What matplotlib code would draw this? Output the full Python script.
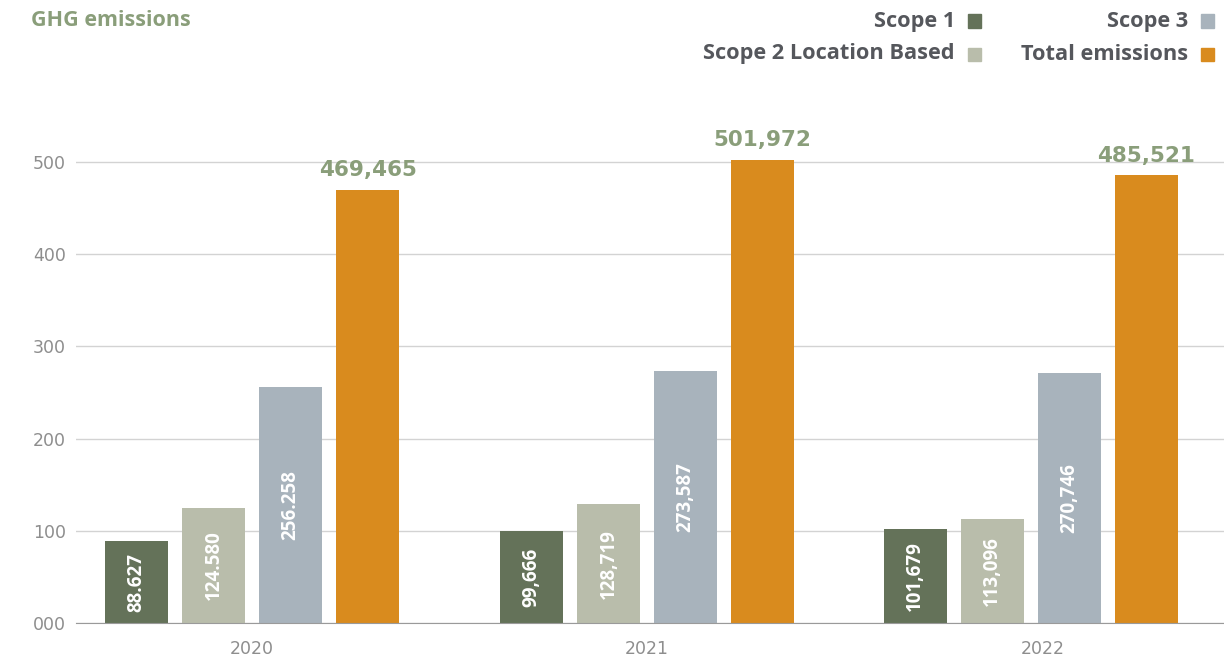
import matplotlib
matplotlib.use("Agg")
import matplotlib.pyplot as plt
import numpy as np

plt.rcParams["font.family"] = ["Open Sans", "DejaVu Sans"]

years = ["2020", "2021", "2022"]
series = ["Scope 1", "Scope 2 Location Based", "Scope 3", "Total emissions"]
scope1 = [88.627, 99.666, 101.679]
scope2 = [124.580, 128.719, 113.096]
scope3 = [256.258, 273.587, 270.746]
total = [469.465, 501.972, 485.521]
scope1_labels = ["88.627", "99,666", "101,679"]
scope2_labels = ["124.580", "128,719", "113,096"]
scope3_labels = ["256.258", "273,587", "270,746"]
total_labels = ["469,465", "501,972", "485,521"]
yticks = [0, 100, 200, 300, 400, 500]
ytick_labels = ["000", "100", "200", "300", "400", "500"]

colors = ["#647259", "#b9bdab", "#a8b3bc", "#d98b1e"]
grey_text = "#55575c"
green_text = "#8a9e7a"

fig = plt.figure(figsize=(12.24, 6.62), dpi=100)
ax = fig.add_axes([0.062, 0.059, 0.938, 0.752])

x = np.arange(len(years))
# the last group sits a little left of its tick in the original
group_pos = np.array([0, 1, 1.971])
pitch = 0.195
width = 0.16
values = [scope1, scope2, scope3, total]
inner_labels = [scope1_labels, scope2_labels, scope3_labels]

for i, (vals, col) in enumerate(zip(values, colors)):
    bars = ax.bar(group_pos + (i - 1.5) * pitch, vals, width, color=col, zorder=3)
    if i < 3:
        ax.bar_label(bars, labels=inner_labels[i], label_type="center",
                     rotation=90, color="white", fontsize=13.5, fontweight="bold")
    else:
        ax.bar_label(bars, labels=total_labels, padding=7, color=green_text,
                     fontsize=15.5, fontweight="bold", family="DejaVu Sans")

ax.set_xlim(-0.446, 2.46)
ax.set_ylim(0, 540)
ax.set_yticks(yticks)
ax.set_yticklabels(ytick_labels)
ax.set_xticks(x)
ax.set_xticklabels(years)
ax.tick_params(axis="both", length=0, labelsize=12.5, colors="#8e8e8e")
for lbl in ax.get_xticklabels() + ax.get_yticklabels():
    lbl.set_family("DejaVu Sans")
ax.tick_params(axis="y", pad=7)
ax.tick_params(axis="x", pad=12)
ax.grid(axis="y", color="#d3d3d3", linewidth=1, zorder=0)
for s in ["top", "right", "left"]:
    ax.spines[s].set_visible(False)
ax.spines["bottom"].set_color("#9a9a9a")
ax.spines["bottom"].set_zorder(4)

fig.text(31 / 1224, 1 - 21 / 662, "GHG emissions", color=green_text,
         fontsize=15.5, fontweight="bold", ha="left", va="center")

legend_pos = [(955, 21), (955, 54), (1188, 21), (1188, 54)]
for name, col, (px, py) in zip(series, colors, legend_pos):
    fig.text(px / 1224, 1 - py / 662, name, color=grey_text, fontsize=15.7,
             fontweight="bold", ha="right", va="center")
    fig.patches.append(plt.Rectangle(((px + 13) / 1224, 1 - (py + 6.5) / 662),
                                     13 / 1224, 13 / 662, color=col,
                                     transform=fig.transFigure, figure=fig))

fig.savefig("out.png", dpi=100, facecolor="white")
